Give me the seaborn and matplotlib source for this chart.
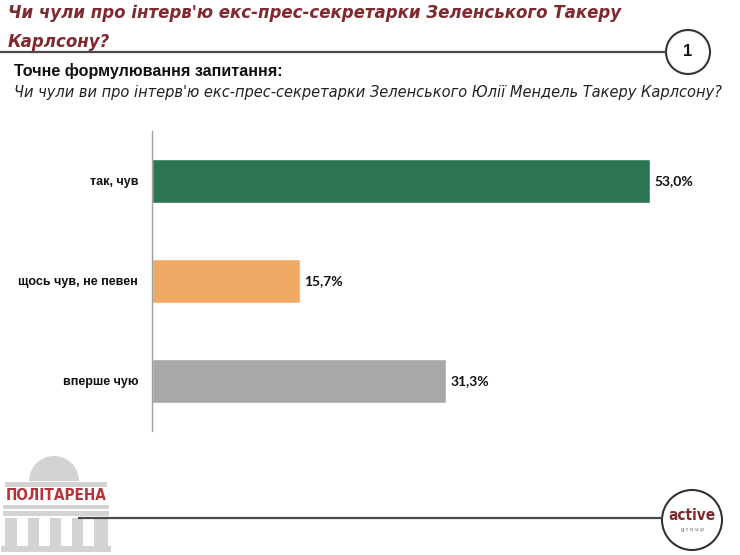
import matplotlib
matplotlib.use("Agg")
import matplotlib.pyplot as plt
import seaborn as sns
import pandas as pd
from matplotlib.patches import Circle, Rectangle, Wedge
from matplotlib.ticker import FixedLocator

# ---- data ----
categories = ["так, чув", "щось чув, не певен", "вперше чую"]
values = [53.0, 15.7, 31.3]
value_labels = ["53,0%", "15,7%", "31,3%"]
bar_colors = ["#2B7552", "#F0AA66", "#A8A8A8"]

title_line1 = "Чи чули про інтерв'ю екс-прес-секретарки Зеленського Такеру"
title_line2 = "Карлсону?"
subtitle_text = "Точне формулювання запитання:"
question_text = "Чи чули ви про інтерв'ю екс-прес-секретарки Зеленського Юлії Мендель Такеру Карлсону?"

df = pd.DataFrame({"cat": categories, "val": values})

sns.set_style("white")
plt.rcParams['font.family'] = ['Liberation Sans', 'DejaVu Sans']

W, H = 740, 555
fig = plt.figure(figsize=(W / 100, H / 100), dpi=100)

def fx(x):
    return x / W

def fy(y):
    return 1 - y / H

# main axes
ax_l, ax_r, ax_t, ax_b = 152, 719, 131, 431
ax = fig.add_axes([fx(ax_l), fy(ax_b), fx(ax_r - ax_l), (ax_b - ax_t) / H])
sns.barplot(data=df, y="cat", x="val", hue="cat", palette=bar_colors,
            width=0.44, orient="h", legend=False, ax=ax, saturation=1)
ax.set_xlim(0, 60.3)
ax.set_ylim(2.5, -0.5)
ax.set_xlabel("")
ax.set_ylabel("")
for s in ["top", "right", "bottom"]:
    ax.spines[s].set_visible(False)
ax.spines["left"].set_color("#A0A0A0")
ax.spines["left"].set_linewidth(1.0)
ax.set_xticks([])
ax.tick_params(axis="y", which="major", length=0, pad=10)
ax.yaxis.set_minor_locator(FixedLocator([-0.5, 0.5, 1.5, 2.5]))
ax.tick_params(axis="y", which="minor", length=4, color="#A0A0A0", width=1.0)
for lbl in ax.get_yticklabels():
    lbl.set_fontweight("bold")
    lbl.set_fontsize(9)
    lbl.set_color("#111111")

for i, (v, t) in enumerate(zip(values, value_labels)):
    ax.annotate(t, xy=(v, i), xytext=(3, 0), textcoords="offset points",
                ha="left", va="center", fontsize=10, fontweight="bold",
                color="#111111", family=["Lato", "DejaVu Sans"])

# overlay axes in pixel coordinates
ov = fig.add_axes([0, 0, 1, 1], zorder=-1)
ov.set_xlim(0, W)
ov.set_ylim(H, 0)
ov.axis("off")

# title
title_kw = dict(fontsize=13.3, fontweight="bold", fontstyle="italic", color="#7F2A2E",
                family="DejaVu Sans", fontstretch="condensed", va="baseline", ha="left")
ov.text(8, 18, title_line1, **title_kw)
ov.text(8, 47, title_line2, **title_kw)

# top line + circle
ov.plot([0, 666], [52, 52], color="#4A4A4A", lw=1.6, solid_capstyle="butt")
ov.add_patch(Circle((688, 52), 22, fill=False, ec="#333333", lw=1.5))
ov.text(688, 52, "1", ha="center", va="center", fontsize=12, fontweight="bold", color="#111111")

# subtitle & question
ov.text(14, 76, subtitle_text, fontsize=11.6, fontweight="bold", color="#111111",
        va="baseline", ha="left")
ov.text(14, 97, question_text, fontsize=11.7, fontstyle="italic", color="#222222",
        family="DejaVu Sans", fontstretch="condensed", va="baseline", ha="left")

# bottom line + active group circle
ov.plot([78, 662], [518, 518], color="#4A4A4A", lw=1.6, solid_capstyle="butt")
ov.add_patch(Circle((692, 520), 30, fill=False, ec="#333333", lw=1.5))
ov.text(692, 515, "active", ha="center", va="center", fontsize=11, fontweight="bold",
        color="#7F2A2E", family="DejaVu Sans", fontstretch="condensed")
ov.text(692, 530, "g r o u p", ha="center", va="center", fontsize=4.5, color="#666666")

# Politarena logo (building)
lg = "#D3D3D3"
ov.add_patch(Wedge((54, 481), 25, 180, 360, color=lg, lw=0))
ov.add_patch(Rectangle((5, 482), 102, 5, color=lg, lw=0))
ov.add_patch(Rectangle((3, 505), 106, 4, color=lg, lw=0))
ov.add_patch(Rectangle((3, 511), 106, 5, color=lg, lw=0))
for x0, w in [(5, 12), (28, 11), (50, 11), (72, 11), (94, 14)]:
    ov.add_patch(Rectangle((x0, 518), w, 29, color=lg, lw=0))
ov.add_patch(Rectangle((1, 546), 110, 6, color=lg, lw=0))
ov.text(56, 496, "ПОЛІТАРЕНА", ha="center", va="center", fontsize=11, fontweight="bold",
        color="#B8323A", family="DejaVu Sans", fontstretch="condensed")

fig.savefig("out.png", dpi=100)
